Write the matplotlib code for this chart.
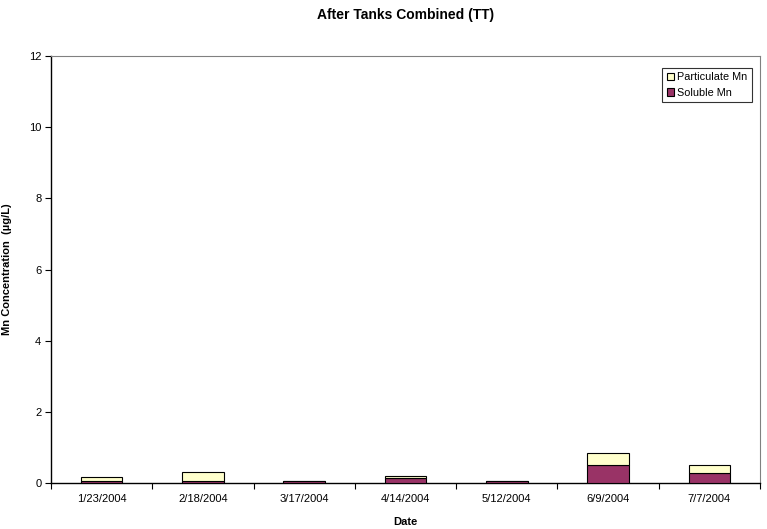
import matplotlib
matplotlib.use("Agg")
import matplotlib.pyplot as plt
import numpy as np

plt.rcParams['font.family'] = ['Liberation Sans', 'DejaVu Sans']

dates = ["1/23/2004", "2/18/2004", "3/17/2004", "4/14/2004", "5/12/2004", "6/9/2004", "7/7/2004"]
soluble = [0.05, 0.05, 0.05, 0.13, 0.05, 0.50, 0.29]
particulate = [0.13, 0.25, 0.0, 0.06, 0.0, 0.33, 0.22]

W, H = 767, 529
L, R, T, B = 51, 760, 56, 483
fig = plt.figure(figsize=(W / 100, H / 100), dpi=100)
ax = fig.add_axes([L / W, 1 - B / H, (R - L) / W, (B - T) / H])

x = np.arange(len(dates)) + 0.5
w = 0.41
ax.bar(x, soluble, w, color='#993366', edgecolor='black', linewidth=0.8, label='Soluble Mn', zorder=3)
ax.bar(x, particulate, w, bottom=soluble, color='#FFFFCC', edgecolor='black', linewidth=0.8,
       label='Particulate Mn', zorder=3)

ax.set_xlim(0, len(dates))
ax.set_ylim(0, 12)
ax.set_yticks(np.arange(0, 13, 2))
ax.set_xticks(np.arange(0, len(dates) + 1))
ax.set_xticklabels([])
ax.set_xticks(x, minor=True)
ax.set_xticklabels(dates, minor=True)
ax.tick_params(axis='x', which='minor', length=0, labelsize=8, pad=8)
ax.tick_params(axis='x', which='major', length=4, direction='out', color='black')
ax.tick_params(axis='y', length=4, direction='out', labelsize=8, pad=3)

for s in ['top', 'right']:
    ax.spines[s].set_color('#808080')
    ax.spines[s].set_linewidth(0.8)
for s in ['left', 'bottom']:
    ax.spines[s].set_color('black')
    ax.spines[s].set_linewidth(1.0)

ax.set_title('After Tanks Combined (TT)', fontsize=10, fontweight='bold', pad=0,
             y=(B - 15) / (B - T), va='center')
ax.set_xlabel('Date', fontsize=8, fontweight='bold', va='center')
ax.xaxis.set_label_coords(0.5, (B - 522) / (B - T))
ax.set_ylabel('Mn Concentration  (µg/L)', fontsize=8, fontweight='bold', va='center')
ax.yaxis.set_label_coords((7 - L) / (R - L), 0.5)

h, l = ax.get_legend_handles_labels()
leg = ax.legend(h[::-1], l[::-1], loc='upper right', fontsize=7.8, frameon=True, fancybox=False,
                edgecolor='black', borderpad=0.4, handlelength=0.7, handleheight=0.7,
                handletextpad=0.3, labelspacing=0.5, borderaxespad=0,
                bbox_to_anchor=((752 - L) / (R - L), (B - 68) / (B - T)))
leg.get_frame().set_linewidth(0.8)

fig.savefig('out.png', dpi=100)
